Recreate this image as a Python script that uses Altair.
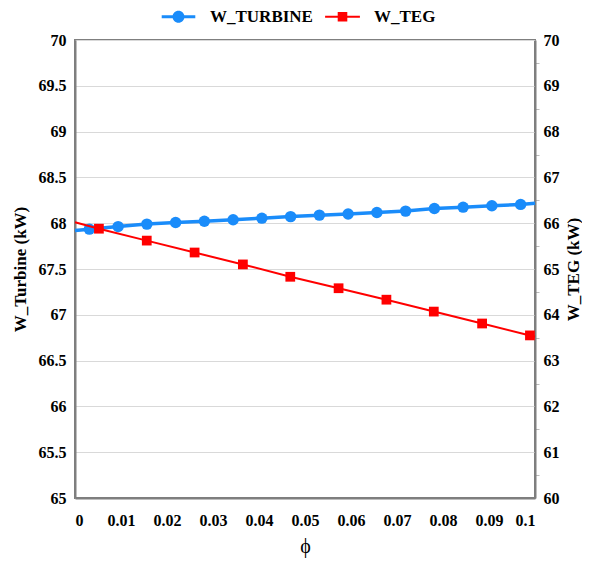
import altair as alt
import pandas as pd

# ---- data ----
phi_turbine = [0.0, 0.003125, 0.009375, 0.015625, 0.021875, 0.028125, 0.034375, 0.040625,
               0.046875, 0.053125, 0.059375, 0.065625, 0.071875, 0.078125, 0.084375,
               0.090625, 0.096875, 0.1]
w_turbine = [67.92, 67.935, 67.963, 67.99, 68.007, 68.022, 68.038, 68.055,
             68.072, 68.088, 68.10, 68.116, 68.132, 68.16, 68.175,
             68.19, 68.205, 68.218]
turbine_marker = [False] + [True] * 16 + [False]

phi_teg = [0.0, 0.0052, 0.0156, 0.026, 0.0365, 0.0468, 0.0573, 0.0677, 0.078, 0.0885, 0.0989, 0.1]
w_teg = [66.02, 65.88, 65.62, 65.36, 65.10, 64.83, 64.58, 64.33, 64.07, 63.81, 63.55, 63.52]
teg_marker = [False] + [True] * 10 + [False]

series_names = ["W_TURBINE", "W_TEG"]
series_colors = ["#1A8CFA", "#FF0000"]

x_ticks = [0, 0.01, 0.02, 0.03, 0.04, 0.05, 0.06, 0.07, 0.08, 0.09, 0.1]
left_ticks = [65, 65.5, 66, 66.5, 67, 67.5, 68, 68.5, 69, 69.5, 70]
right_ticks = [60, 60.5, 61, 61.5, 62, 62.5, 63, 63.5, 64, 64.5, 65, 65.5, 66, 66.5,
               67, 67.5, 68, 68.5, 69, 69.5, 70]

FONT = "Liberation Serif"
AXIS_GRAY = "#7f7f7f"

turb_df = pd.DataFrame({"phi": phi_turbine, "w": w_turbine, "marker": turbine_marker})
teg_df = pd.DataFrame({"phi": phi_teg, "w": w_teg, "marker": teg_marker})
legend_df = pd.DataFrame({"series": series_names})

x_enc = alt.X(
    "phi:Q",
    scale=alt.Scale(domain=[0, 0.1], nice=False),
    axis=alt.Axis(
        values=x_ticks, format="~g", title="ϕ", grid=False, ticks=False,
        labelPadding=14, titlePadding=8, titleFontSize=20, titleFontWeight="normal",
        domainColor=AXIS_GRAY, domainWidth=2,
    ),
)

y_left = alt.Y(
    "w:Q",
    scale=alt.Scale(domain=[65, 70], nice=False, zero=False),
    axis=alt.Axis(
        values=left_ticks, format="~g", title="W_Turbine (kW)", grid=True,
        gridColor="#d9d9d9", gridWidth=1, ticks=False, labelPadding=9,
        domainColor=AXIS_GRAY, domainWidth=2, orient="left", titlePadding=9,
    ),
)

y_right = alt.Y(
    "w:Q",
    scale=alt.Scale(domain=[60, 70], nice=False, zero=False),
    axis=alt.Axis(
        values=right_ticks, title="W_TEG (kW)", grid=False, orient="right",
        labelExpr="datum.value % 1 == 0 ? format(datum.value, '~g') : ''",
        tickSize=4, tickColor={"condition": {"test": "datum.value % 1 != 0", "value": "#bbbbbb"},
                               "value": "transparent"},
        labelPadding=4, domainColor=AXIS_GRAY, domainWidth=2,
        titleAngle=270, titleBaseline="top", titlePadding=6,
    ),
)

turb_line = alt.Chart(turb_df).mark_line(color=series_colors[0], strokeWidth=3.5).encode(
    x=x_enc, y=y_left
)
turb_pts = alt.Chart(turb_df).transform_filter("datum.marker").mark_point(
    shape="circle", filled=True, size=130, opacity=1, color=series_colors[0]
).encode(x=x_enc, y=y_left)

teg_line = alt.Chart(teg_df).mark_line(color=series_colors[1], strokeWidth=2).encode(
    x=x_enc, y=y_right
)
teg_pts = alt.Chart(teg_df).transform_filter("datum.marker").mark_point(
    shape="square", filled=True, size=95, opacity=1, color=series_colors[1]
).encode(x=x_enc, y=y_right)

# legend-only layer (draws no marks, only feeds the legend)
legend_shapes = [
    "M-2.8,-0.25H2.8V0.25H-2.8Z M1,0A1,1 0 1,1 -1,0A1,1 0 1,1 1,0Z",
    "M-2.9,-0.17H2.9V0.17H-2.9Z M-0.8,-0.8H0.8V0.8H-0.8Z",
]
legend_opts = dict(title=None, orient="none", direction="horizontal",
                   legendX=95, legendY=-32, labelOffset=23,
                   columnPadding=12, symbolSize=144,
                   labelFont=FONT, labelFontSize=17,
                   labelFontWeight="bold", labelColor="black",
                   symbolStrokeWidth=0)
legend_layer = alt.Chart(legend_df).transform_filter("false").mark_point(
    filled=True, opacity=1, size=144
).encode(
    color=alt.Color("series:N", scale=alt.Scale(domain=series_names, range=series_colors),
                    legend=alt.Legend(**legend_opts)),
    shape=alt.Shape("series:N", scale=alt.Scale(domain=series_names, range=legend_shapes),
                    legend=alt.Legend(**legend_opts)),
)

left = alt.layer(turb_line, turb_pts)
right = alt.layer(teg_line, teg_pts)

chart = alt.layer(left, right, legend_layer).resolve_scale(
    y="independent"
).properties(
    width=460, height=458,
    padding={"left": 67, "top": 32, "right": 47, "bottom": 60},
    autosize=alt.AutoSizeParams(type="none"),
).configure_axis(
    labelFont=FONT, labelFontSize=16, labelFontWeight="bold", labelColor="black",
    titleFont=FONT, titleFontSize=17, titleFontWeight="bold", titleColor="black",
).configure_view(
    stroke=AXIS_GRAY, strokeWidth=2
)

chart.save("out.html", embed_options={"renderer": "svg", "actions": False})
